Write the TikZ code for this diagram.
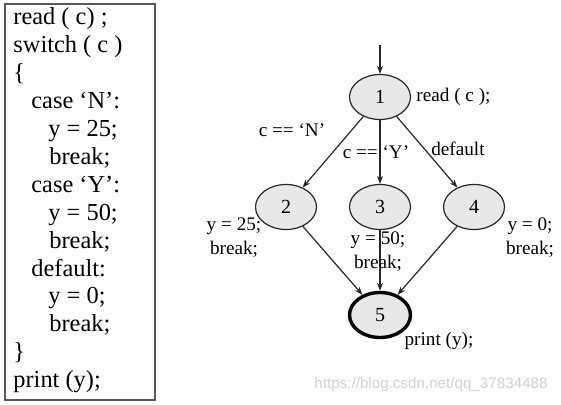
\documentclass[tikz,border=0pt]{standalone}
\usepackage{fontspec}
\setmainfont{Liberation Serif}
\setsansfont{Liberation Sans}
\usetikzlibrary{shapes.geometric,arrows.meta}

\tikzset{
  block/.style={ellipse,draw=black!85,fill=gray!18,line width=0.6pt,
    minimum width=30.5pt,minimum height=22.5pt,inner sep=0pt,font=\fontsize{10}{12}\selectfont},
  arr/.style={-{Stealth[length=4pt,width=3pt]},line width=0.6pt,draw=black!85},
  lbl/.style={inner sep=0pt,align=center,font=\fontsize{9.6}{12}\selectfont}
}

\begin{document}
\begin{tikzpicture}[x=0.5pt,y=-0.5pt]
  \useasboundingbox (0,0) rectangle (561,405);
  % program text
  \draw[black!65,line width=0.6pt] (5,4) rectangle (155,400);
  \foreach \ind/\txt [count=\i] in {13/read ( c) ;, 13/switch ( c ), 13/\{,
      31/case `N':, 48/y = 25;, 49/break;, 31/case `Y':, 48/y = 50;, 49/break;,
      31/default:, 48/y = 0;, 49/break;, 13/\}, 13/print (y);}
    \node[anchor=base west,inner sep=0pt,font=\fontsize{12.2}{14}\selectfont]
      (line\i) at (\ind,{25+(\i-1)*27.9}) {\txt};

  % flow graph
  \coordinate (in) at (380,45);
  \node[block] (n1) at (380,97) {1};
  \node[block] (n2) at (286,207) {2};
  \node[block] (n3) at (380,207) {3};
  \node[block] (n4) at (474,207) {4};
  \node[block,line width=1.7pt,draw=black] (n5) at (380,315) {5};

  \draw[arr] (in) -- (n1);
  \draw[arr] (n1) -- (n2);
  \draw[arr] (n1) -- (n3);
  \draw[arr] (n1) -- (n4);
  \draw[arr] (n2) -- (n5);
  \draw[arr] (n3) -- (n5);
  \draw[arr] (n4) -- (n5);

  \node[lbl,anchor=west] (rd) at (416,97) {read ( c );};
  \node[lbl] (cn) at (292,130) {c == `N'};
  \node[lbl] (cy) at (376,152) {c == `Y'};
  \node[lbl] (df) at (458,149) {default};
  \node[lbl] (s2) at (234,238) {y = 25;\\ break;};
  \node[lbl] (s3) at (378,252) {y = 50;\\ break;};
  \node[lbl] (s4) at (530,238) {y = 0;\\ break;};
  \node[lbl] (pr) at (439,341) {print (y);};

  \node[inner sep=0pt,text=gray!35,font=\sffamily\fontsize{7.6}{9}\selectfont]
    (wm) at (431,385) {https://blog.csdn.net/qq\_37834488};
\end{tikzpicture}
\end{document}
